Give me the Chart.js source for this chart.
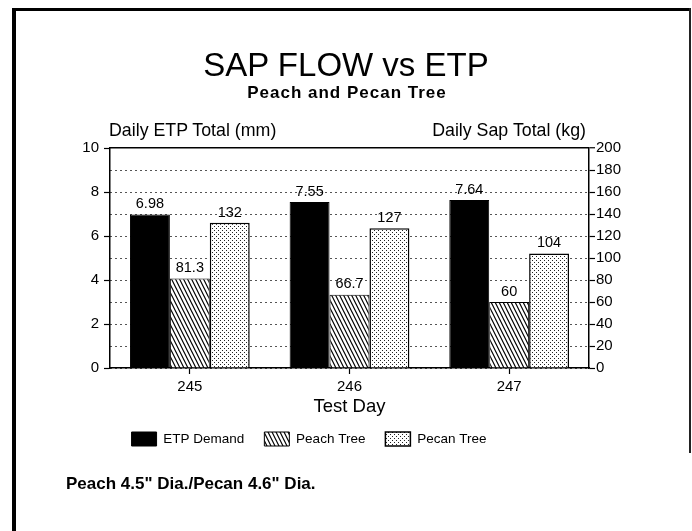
<!DOCTYPE html>
<html>
<head>
<meta charset="utf-8">
<script src="https://cdn.jsdelivr.net/npm/chart.js@4.4.1/dist/chart.umd.min.js"></script>
<style>
  html,body{margin:0;padding:0;background:#fff;}
  #wrap{position:relative;width:692px;height:531px;overflow:hidden;font-family:"Liberation Sans",Arial,sans-serif;color:#000;}
  #c{position:absolute;left:0;top:0;}
  .t{position:absolute;white-space:nowrap;line-height:1;}
  .line{position:absolute;background:#000;}
</style>
</head>
<body>
<div id="wrap">
  <canvas id="c" width="692" height="531"></canvas>
  <div class="line" style="left:12px;top:8px;width:4px;height:523px;"></div>
  <div class="line" style="left:12px;top:8px;width:678px;height:3px;"></div>
  <div class="line" style="left:689px;top:8px;width:2px;height:445px;background:#222;"></div>
  <div class="t" style="left:0;width:692px;text-align:center;top:48px;font-size:33px;">SAP FLOW vs ETP</div>
  <div class="t" style="left:0;width:694px;text-align:center;top:84px;font-size:17px;font-weight:bold;letter-spacing:1px;">Peach and Pecan Tree</div>
  <div class="t" style="left:109px;top:122px;font-size:17.8px;">Daily ETP Total (mm)</div>
  <div class="t" style="right:106px;top:122px;font-size:17.8px;">Daily Sap Total (kg)</div>
  <div class="t" style="left:66px;top:475px;font-size:17px;font-weight:bold;">Peach 4.5" Dia./Pecan 4.6" Dia.</div>
</div>
<script>
const categories = ['245', '246', '247'];
const etpDemand = [6.98, 7.55, 7.64];
const peachTree = [81.3, 66.7, 60];
const pecanTree = [132, 127, 104];
const etpLabels = ['6.98', '7.55', '7.64'];
const peachLabels = ['81.3', '66.7', '60'];
const pecanLabels = ['132', '127', '104'];
const seriesNames = ['ETP Demand', 'Peach Tree', 'Pecan Tree'];

const canvas = document.getElementById('c');
const ctx = canvas.getContext('2d');

function hatchPattern() {
  const c = document.createElement('canvas');
  c.width = 4; c.height = 8;
  const g = c.getContext('2d');
  g.fillStyle = '#fff'; g.fillRect(0, 0, 4, 8);
  g.strokeStyle = '#000'; g.lineWidth = 1.2;
  g.beginPath();
  for (const dx of [-4, 0, 4]) {
    g.moveTo(dx - 1, -2); g.lineTo(dx + 5, 10);
  }
  g.stroke();
  return ctx.createPattern(c, 'repeat');
}
function stipplePattern() {
  const c = document.createElement('canvas');
  c.width = 4; c.height = 4;
  const g = c.getContext('2d');
  g.fillStyle = '#fff'; g.fillRect(0, 0, 4, 4);
  g.fillStyle = '#222';
  g.fillRect(0, 0, 1, 1);
  g.fillRect(2, 2, 1, 1);
  return ctx.createPattern(c, 'repeat');
}

const FONT = '"Liberation Sans", Arial, sans-serif';

const valueLabels = {
  id: 'valueLabels',
  afterDatasetsDraw(chart) {
    const c = chart.ctx;
    const texts = [etpLabels, peachLabels, pecanLabels];
    c.save();
    c.font = '14.5px ' + FONT;
    c.fillStyle = '#000';
    c.textAlign = 'center';
    c.textBaseline = 'bottom';
    chart.data.datasets.forEach((ds, di) => {
      const meta = chart.getDatasetMeta(di);
      meta.data.forEach((bar, i) => {
        c.fillText(texts[di][i], bar.x, bar.y - 3);
      });
    });
    c.restore();
  }
};

// legend in the reference sits left of the page centre and close under the axis title
const legendShift = {
  id: 'legendShift',
  afterLayout(chart) {
    const l = chart.legend;
    if (l) { l.left -= 37; l.right -= 37; l.top -= 6; l.bottom -= 6; }
  }
};

new Chart(ctx, {
  type: 'bar',
  data: {
    labels: categories,
    datasets: [
      { label: seriesNames[0], data: etpDemand, yAxisID: 'y', backgroundColor: '#000', borderColor: '#000', borderWidth: 1 },
      { label: seriesNames[1], data: peachTree, yAxisID: 'y2', backgroundColor: hatchPattern(), borderColor: '#000', borderWidth: 1 },
      { label: seriesNames[2], data: pecanTree, yAxisID: 'y2', backgroundColor: stipplePattern(), borderColor: '#000', borderWidth: 1.5 }
    ]
  },
  options: {
    responsive: false,
    animation: false,
    events: [],
    categoryPercentage: 0.75,
    barPercentage: 1.0,
    layout: { padding: { top: 148, left: 0, right: 0, bottom: 69 } },
    plugins: {
      title: { display: false },
      tooltip: { enabled: false },
      legend: {
        position: 'bottom',
        labels: {
          boxWidth: 25, boxHeight: 14, padding: 20, color: '#000',
          font: { family: FONT, size: 13.5 }
        }
      }
    },
    scales: {
      x: {
        offset: true,
        grid: { offset: false, drawOnChartArea: false, drawTicks: true, tickLength: 6, tickColor: '#000', tickWidth: 1.2 },
        border: { color: '#000', width: 1.5 },
        ticks: { color: '#000', padding: 4, font: { family: FONT, size: 15 } },
        title: { display: true, text: 'Test Day', color: '#000', padding: { top: 1, bottom: 0 }, font: { family: FONT, size: 18.5 } },
        afterFit(s) { s.height = 50; }
      },
      y: {
        position: 'left',
        min: 0, max: 10,
        ticks: { stepSize: 2, color: '#000', padding: 5, font: { family: FONT, size: 15 } },
        grid: { drawOnChartArea: false, drawTicks: true, tickLength: 6, tickColor: '#000', tickWidth: 1.2 },
        border: { color: '#000', width: 1.5 },
        afterFit(s) { s.width = 110; }
      },
      y2: {
        position: 'right',
        min: 0, max: 200,
        ticks: { stepSize: 20, color: '#000', padding: 1, font: { family: FONT, size: 15 } },
        grid: {
          drawOnChartArea: true, drawTicks: true, tickLength: 6,
          tickColor: '#000', tickWidth: 1.2, tickBorderDash: [],
          color: (c) => (c.tick && c.tick.value === 200) ? '#000' : '#555',
          lineWidth: (c) => (c.tick && c.tick.value === 200) ? 1.5 : 1
        },
        border: { color: '#000', width: 1.5, dash: (c) => (c.tick && c.tick.value === 200) ? [] : [2, 3] },
        afterFit(s) { s.width = 103; }
      }
    }
  },
  plugins: [valueLabels, legendShift]
});
</script>
</body>
</html>
